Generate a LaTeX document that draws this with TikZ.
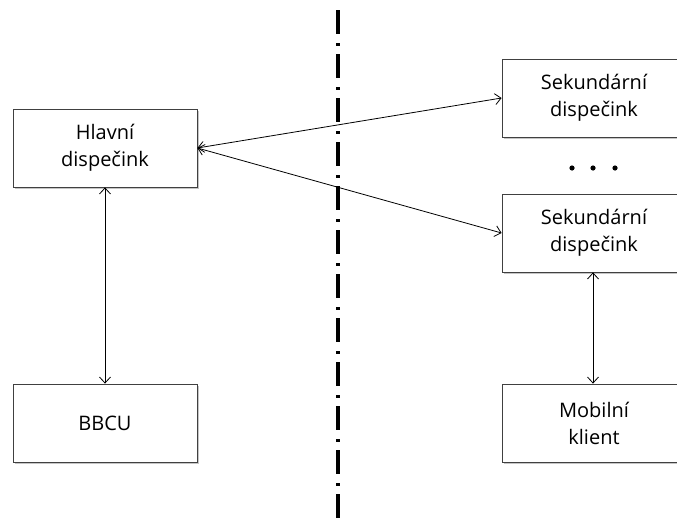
\documentclass[tikz,border=0pt]{standalone}
\usepackage{fontspec}
\setmainfont{Open Sans}
\usetikzlibrary{arrows.meta,shadows}
\tikzset{
	dispbox/.style={draw=black!75, fill=white, line width=0.8pt, minimum width=184pt,
		minimum height=78pt, align=center, inner sep=0pt,
		font=\fontsize{20}{27}\selectfont,
		drop shadow={shadow xshift=1.5pt, shadow yshift=-1.5pt, opacity=0.45}},
	link/.style={{Straight Barb[length=6pt,width=11pt]}-{Straight Barb[length=6pt,width=11pt]}, line width=0.8pt},
}
\begin{document}
	\begin{tikzpicture}[x=1pt, y=-1pt]
		\clip (0,0) rectangle (677,525);
		\fill[white] (0,0) rectangle (677,525);
		\draw[line width=3.5pt, dash pattern=on 24pt off 9pt on 3pt off 8pt] (338,10) -- (338,530);
		\node[dispbox] (hlavni) at (105,148) {Hlavní\\dispečink};
		\node[dispbox] (bbcu)   at (105,423) {BBCU};
		\node[dispbox] (sek1)   at (594,98)  {Sekundární\\dispečink};
		\node[dispbox] (sek2)   at (594,233) {Sekundární\\dispečink};
		\node[dispbox] (mobil)  at (594,423) {Mobilní\\klient};
		\foreach \x in {572,593,615}
			\fill (\x,168) circle (2.6);
		\draw[link] (hlavni.east) -- (sek1.west);
		\draw[link] (hlavni.east) -- (sek2.west);
		\draw[link] (hlavni.south) -- (bbcu.north);
		\draw[link] (sek2.south -| 593,0) -- (mobil.north -| 593,0);
	\end{tikzpicture}
\end{document}
